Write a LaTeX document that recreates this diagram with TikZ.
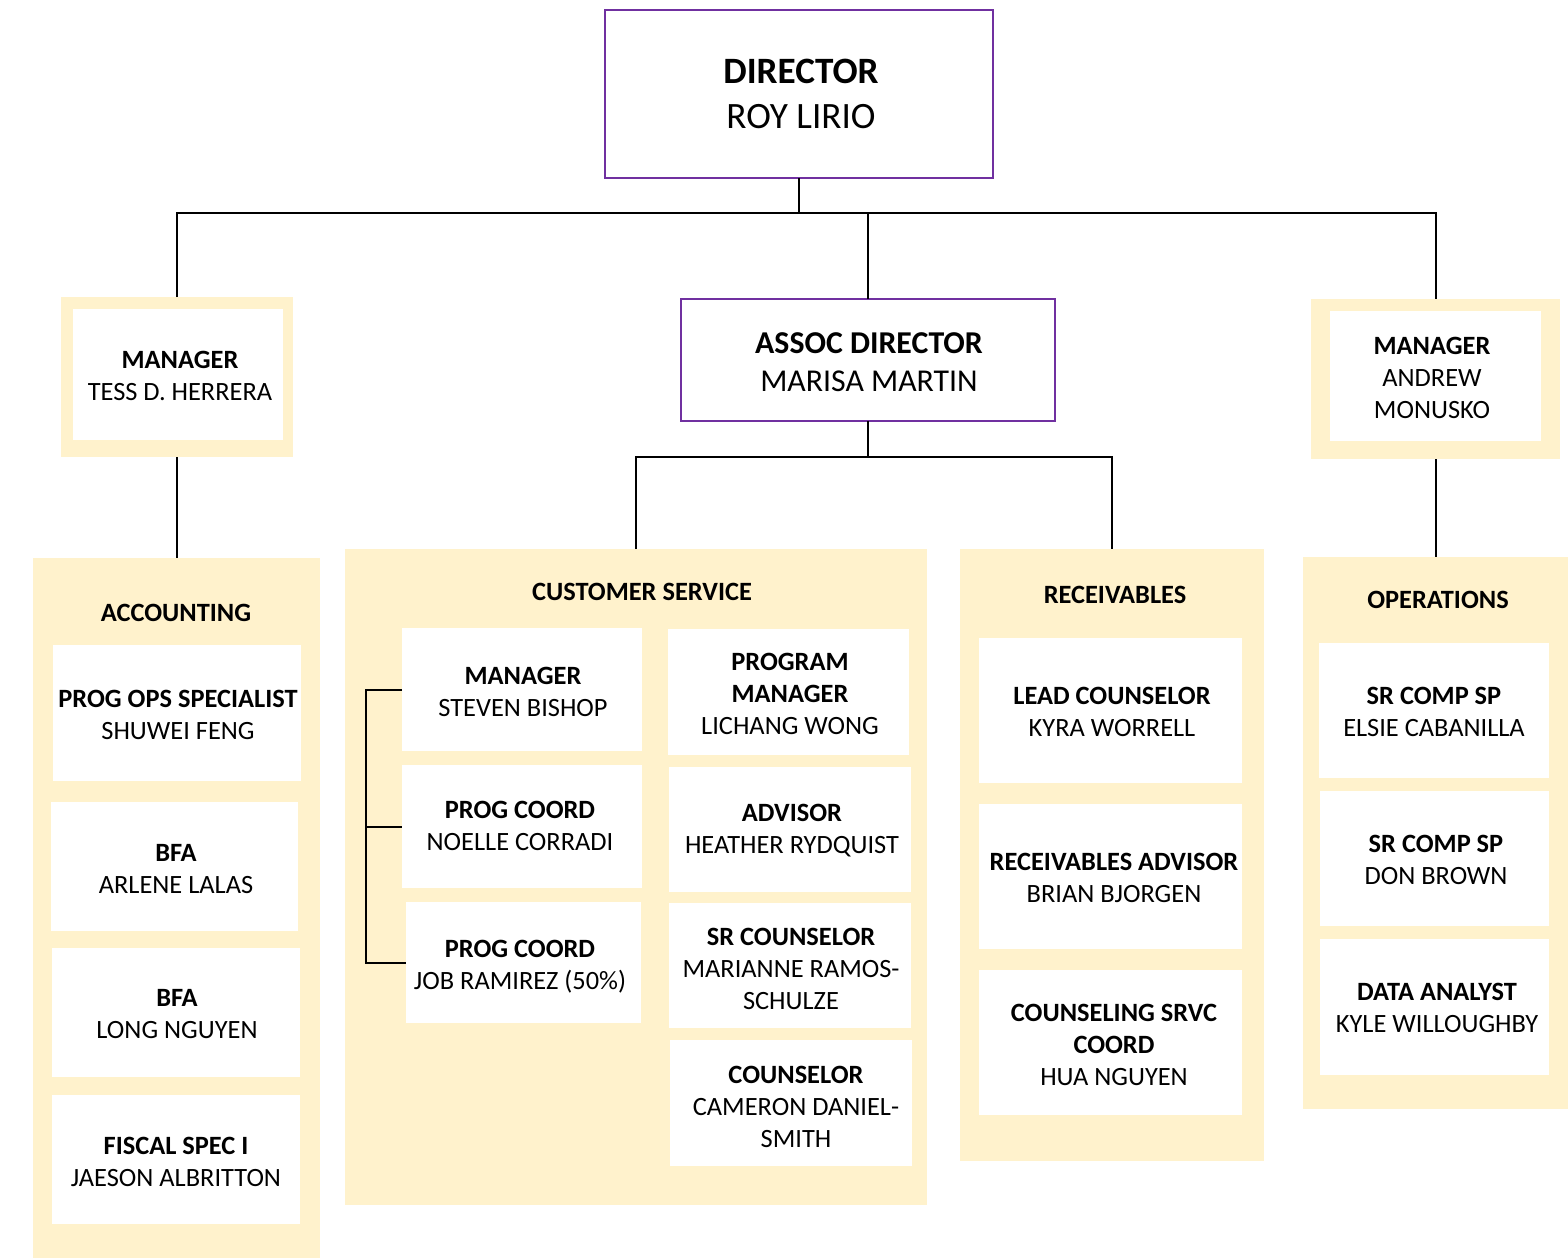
\documentclass[tikz,border=0pt]{standalone}
\usepackage{fontspec}
\setmainfont{Carlito}
\definecolor{cream}{HTML}{FFF2CC}
\definecolor{edgepurple}{HTML}{7030A0}
\newcommand\fsSmall{\fontsize{13.2}{16}\selectfont}
\newcommand\fsDir{\fontsize{18.6}{22.5}\selectfont}
\newcommand\fsAssoc{\fontsize{15.9}{19}\selectfont}
% box node: style, name, x1, y1, x2, y2 (pixel units)
\newcommand\bx[6]{\node[#1, anchor=north west, minimum width={(#5-#3)*0.5pt}, minimum height={(#6-#4)*0.5pt}] (#2) at (#3,#4) {};}
\tikzset{
  panel/.style={fill=cream, draw=none, inner sep=0pt, outer sep=0pt},
  card/.style={fill=white, draw=none, inner sep=0pt, outer sep=0pt},
  headbox/.style={fill=white, draw=edgepurple, line width=1pt, inner sep=0pt, outer sep=0pt},
  lbl/.style={font=\fsSmall, align=center, inner sep=0pt, text=black},
  conn/.style={line width=1pt, draw=black}
}
\begin{document}
\begin{tikzpicture}[x=0.5pt, y=-0.5pt]
\useasboundingbox (0,0) rectangle (1568,1258);
\fill[white] (0,0) rectangle (1568,1258);

% ---- top boxes
\bx{headbox}{dir}{605}{10}{993}{178}
\node[lbl, font=\fsDir] (dirT) at (801,93.5) {\textbf{DIRECTOR}\\ROY LIRIO};
\bx{headbox}{assoc}{681}{299}{1055}{421}
\node[lbl, font=\fsAssoc] (assocT) at (869,362) {\textbf{ASSOC DIRECTOR}\\MARISA MARTIN};

% ---- managers
\bx{panel}{mgrL}{61}{297}{293}{457}
\bx{card}{mgrLin}{73}{309}{283}{440}
\node[lbl] (mgrLT) at (180,376) {\textbf{MANAGER}\\TESS D. HERRERA};
\bx{panel}{mgrR}{1311}{299}{1560}{459}
\bx{card}{mgrRin}{1330}{311}{1541}{441}
\node[lbl] (mgrRT) at (1432,378) {\textbf{MANAGER}\\ANDREW\\MONUSKO};

% ---- accounting
\bx{panel}{acct}{33}{558}{320}{1258}
\node[lbl] (acctT) at (176,613) {\textbf{ACCOUNTING}};
\bx{card}{ac1}{53}{645}{301}{781}
\node[lbl] (ac1T) at (178,715) {\textbf{PROG OPS SPECIALIST}\\SHUWEI FENG};
\bx{card}{ac2}{51}{802}{298}{931}
\node[lbl] (ac2T) at (176,869) {\textbf{BFA}\\ARLENE LALAS};
\bx{card}{ac3}{52}{948}{300}{1077}
\node[lbl] (ac3T) at (177,1014) {\textbf{BFA}\\LONG NGUYEN};
\bx{card}{ac4}{52}{1095}{300}{1224}
\node[lbl] (ac4T) at (176,1162) {\textbf{FISCAL SPEC I}\\JAESON ALBRITTON};

% ---- customer service
\bx{panel}{cs}{345}{549}{927}{1205}
\node[lbl] (csT) at (642,592) {\textbf{CUSTOMER SERVICE}};
\bx{card}{csMgr}{402}{628}{642}{751}
\node[lbl] (csMgrT) at (523,692) {\textbf{MANAGER}\\STEVEN BISHOP};
\bx{card}{csPa}{402}{765}{642}{888}
\node[lbl] (csPaT) at (520,826) {\textbf{PROG COORD}\\NOELLE CORRADI};
\bx{card}{csPb}{406}{902}{641}{1023}
\node[lbl] (csPbT) at (520,967) {\textbf{PROG COORD}\\JOB RAMIREZ (50\%)};
\bx{card}{csR1}{668}{629}{909}{755}
\node[lbl] (csR1T) at (790,694) {\textbf{PROGRAM}\\\textbf{MANAGER}\\LICHANG WONG};
\bx{card}{csR2}{669}{767}{911}{892}
\node[lbl] (csR2T) at (792,831) {\textbf{ADVISOR}\\HEATHER RYDQUIST};
\bx{card}{csR3}{669}{903}{911}{1028}
\node[lbl] (csR3T) at (791,969) {\textbf{SR COUNSELOR}\\MARIANNE RAMOS-\\SCHULZE};
\bx{card}{csR4}{670}{1040}{912}{1166}
\node[lbl] (csR4T) at (796,1107) {\textbf{COUNSELOR}\\CAMERON DANIEL-\\SMITH};

% ---- receivables
\bx{panel}{rec}{960}{549}{1264}{1161}
\node[lbl] (recT) at (1115,595) {\textbf{RECEIVABLES}};
\bx{card}{rc1}{979}{638}{1242}{783}
\node[lbl] (rc1T) at (1112,712) {\textbf{LEAD COUNSELOR}\\KYRA WORRELL};
\bx{card}{rc2}{979}{804}{1242}{949}
\node[lbl] (rc2T) at (1114,878) {\textbf{RECEIVABLES ADVISOR}\\BRIAN BJORGEN};
\bx{card}{rc3}{979}{970}{1242}{1115}
\node[lbl] (rc3T) at (1114,1045) {\textbf{COUNSELING SRVC}\\\textbf{COORD}\\HUA NGUYEN};

% ---- operations
\bx{panel}{ops}{1303}{557}{1568}{1109}
\node[lbl] (opsT) at (1438,600) {\textbf{OPERATIONS}};
\bx{card}{op1}{1319}{643}{1549}{778}
\node[lbl] (op1T) at (1434,712) {\textbf{SR COMP SP}\\ELSIE CABANILLA};
\bx{card}{op2}{1320}{791}{1549}{926}
\node[lbl] (op2T) at (1436,860) {\textbf{SR COMP SP}\\DON BROWN};
\bx{card}{op3}{1320}{939}{1549}{1075}
\node[lbl] (op3T) at (1437,1008) {\textbf{DATA ANALYST}\\KYLE WILLOUGHBY};

% ---- connectors
\coordinate (j1) at (799,213);
\coordinate (j2) at (868,457);
\draw[conn] (dir.south) -- (j1);
\draw[conn] (mgrL.north) -- (mgrL.north |- j1) -- (mgrR.north |- j1) -- (mgrR.north);
\draw[conn] (assoc.north) -- (assoc.north |- j1);
\draw[conn] (mgrL.south) -- (mgrL.south |- acct.north);
\draw[conn] (mgrR.south) -- (mgrR.south |- ops.north);
\draw[conn] (assoc.south) -- (j2);
\draw[conn] (cs.north) -- (cs.north |- j2) -- (rec.north |- j2) -- (rec.north);
\coordinate (bx) at (366,690);
\draw[conn] (csMgr.west) -- (csMgr.west -| bx) -- (csPb.west -| bx) -- (csPb.west);
\draw[conn] (csPa.west -| bx) -- (csPa.west);
\end{tikzpicture}
\end{document}
